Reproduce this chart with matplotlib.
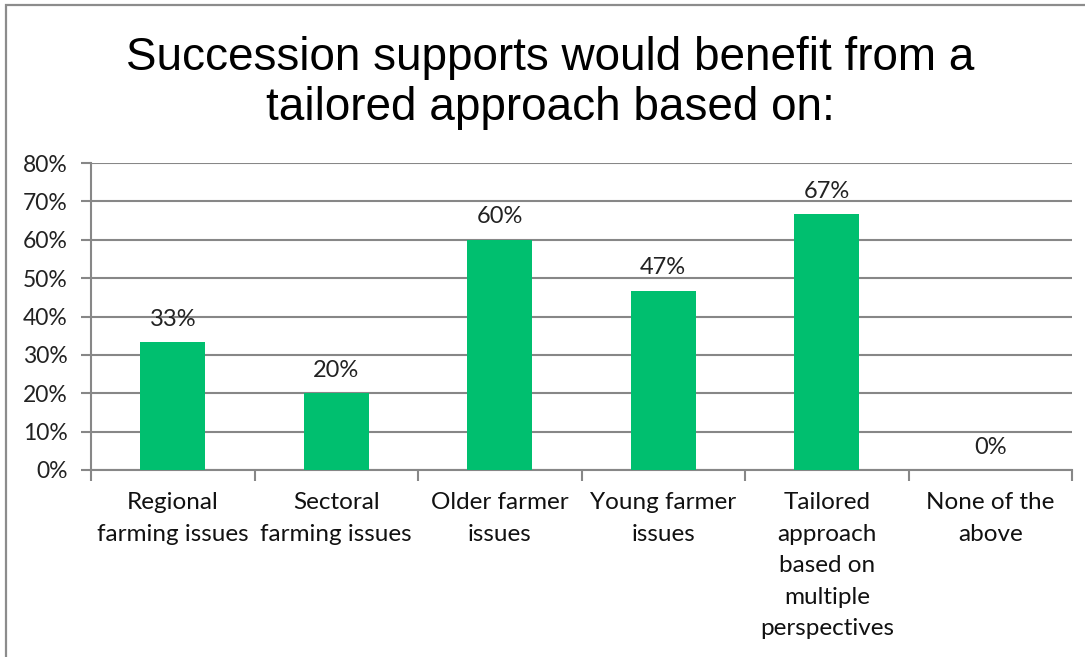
import numpy as np
import matplotlib.pyplot as plt
from matplotlib.patches import Rectangle

# Survey results (share of respondents)
categories = [
    "Regional\nfarming issues",
    "Sectoral\nfarming issues",
    "Older farmer\nissues",
    "Young farmer\nissues",
    "Tailored\napproach\nbased on\nmultiple\nperspectives",
    "None of the\nabove",
]
shares = [33.3, 20.0, 60.0, 46.7, 66.7, 0.0]
yticks = [0, 10, 20, 30, 40, 50, 60, 70, 80]

title = "Succession supports would benefit from a\ntailored approach based on:"

W, H = 1085, 657
fig = plt.figure(figsize=(W / 100, H / 100), dpi=100)

# outer chart frame
fig.patches.append(Rectangle((6 / W, -0.05), 1.1, 1 - 5 / H + 0.05, transform=fig.transFigure,
                             fill=False, edgecolor="#8c8c8c", linewidth=1.6))

ax = fig.add_axes([91 / W, 1 - 470 / H, (1072 - 91) / W, (470 - 163) / H])

grid_col = "#878787"
x = np.arange(len(categories))
ax.bar(x, shares, width=0.4, color="#00BF6F", zorder=3)

ax.set_xlim(-0.5, len(categories) - 0.5)
ax.set_ylim(0, 80)
ax.set_yticks(yticks)
ax.set_yticklabels([f"{t}%" for t in yticks], fontsize=16.5, family="Lato", color="#222222")
ax.yaxis.grid(True, color=grid_col, linewidth=1.5, zorder=0)

ax.set_xticks(x)
ax.set_xticklabels(categories, fontsize=17.5, family="Lato", color="#111111", linespacing=1.62)
ax.set_xticks(np.arange(len(categories) + 1) - 0.5, minor=True)
ax.tick_params(axis="x", which="major", length=0, pad=16)
ax.tick_params(axis="x", which="minor", length=8, width=1.5, color=grid_col, direction="out")
ax.tick_params(axis="y", length=7, width=1.5, color=grid_col, pad=10)

for side in ["top", "right"]:
    ax.spines[side].set_visible(False)
for side in ["left", "bottom"]:
    ax.spines[side].set_color(grid_col)
    ax.spines[side].set_linewidth(1.5)

for xi, v in zip(x, shares):
    ax.annotate(f"{v:.0f}%", (xi, v), xytext=(0, 9), textcoords="offset points",
                ha="center", va="bottom", fontsize=17, family="Lato", color="#222222")

fig.text(550 / W, 1 - 83 / H, title, ha="center", va="center", fontsize=33,
         family="Liberation Sans", linespacing=1.2)

fig.savefig("out.png", dpi=100)
